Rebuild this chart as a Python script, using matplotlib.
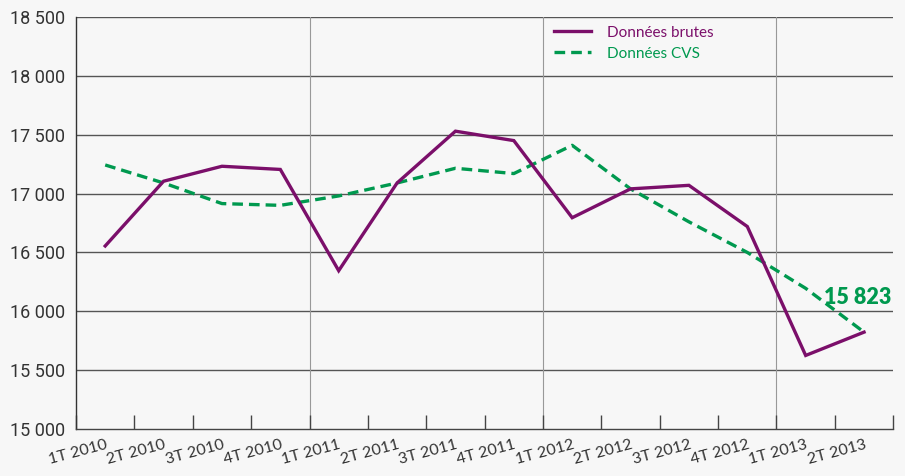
import matplotlib
matplotlib.use("Agg")
import matplotlib.pyplot as plt
import numpy as np

categories = ["1T 2010", "2T 2010", "3T 2010", "4T 2010",
              "1T 2011", "2T 2011", "3T 2011", "4T 2011",
              "1T 2012", "2T 2012", "3T 2012", "4T 2012",
              "1T 2013", "2T 2013"]
brutes = [16555, 17105, 17232, 17205, 16345, 17090, 17530, 17450,
          16795, 17040, 17070, 16720, 15625, 15823]
cvs = [17243, 17090, 16915, 16900, 16980, 17090, 17215, 17170,
       17410, 17040, 16760, 16500, 16195, 15823]
yticks = [15000, 15500, 16000, 16500, 17000, 17500, 18000, 18500]
ytick_labels = ["15 000", "15 500", "16 000", "16 500", "17 000", "17 500", "18 000", "18 500"]
label_last = "15 823"

purple = "#7b0f6a"
green = "#00994f"
bg = "#f7f7f7"

fig = plt.figure(figsize=(9.05, 4.76), dpi=100)
fig.patch.set_facecolor(bg)
ax = fig.add_axes([0.084, 0.0987, 0.903, 0.8656])
ax.set_facecolor(bg)

x = np.arange(len(categories))
ax.plot(x, brutes, color=purple, lw=2.4, solid_joinstyle="miter", label="Données brutes", zorder=4)
ax.plot(x, cvs, color=green, lw=2.4, ls=(0, (3.2, 1.8)), label="Données CVS", zorder=3)

ax.set_xlim(-0.5, len(categories) - 0.5)
ax.set_ylim(15000, 18500)

# horizontal grid
for yv in yticks[1:]:
    ax.axhline(yv, color="#555555", lw=1.0, zorder=1)
# vertical year separators
for xv in [3.5, 7.5, 11.5]:
    ax.axvline(xv, color="#999999", lw=0.8, zorder=1)

ax.set_yticks(yticks)
ax.set_yticklabels(ytick_labels, fontsize=13, family="Roboto", color="#333333")
ax.tick_params(axis="y", length=0, pad=8)

ax.set_xticks(np.arange(-0.5, len(categories), 1.0))
ax.set_xticklabels([])
ax.tick_params(axis="x", which="major", direction="in", length=10, width=1.0, color="#444444")
ax.set_xticks(x, minor=True)
ax.set_xticklabels(categories, minor=True, rotation=15, ha="right", va="top",
                   rotation_mode="anchor", fontsize=11.5, family="Lato", color="#333333")
ax.tick_params(axis="x", which="minor", length=0, pad=6)

for s in ["top", "right"]:
    ax.spines[s].set_visible(False)
ax.spines["left"].set_color("#333333")
ax.spines["bottom"].set_color("#444444")
ax.spines["left"].set_linewidth(1.0)
ax.spines["bottom"].set_linewidth(1.0)

leg = ax.legend(loc="upper left", bbox_to_anchor=(0.568, 1.012), frameon=False,
                prop={"family": "Lato", "size": 11}, handlelength=2.4, labelspacing=0.45,
                handletextpad=1.1)
for t, c in zip(leg.get_texts(), [purple, green]):
    t.set_color(c)

ax.annotate(label_last, xy=(x[-1], cvs[-1]), xytext=(x[-1] + 0.47, 16120),
            ha="right", va="center", fontsize=15.5, fontweight="heavy",
            family="Lato", color=green)

fig.savefig("out.png", dpi=100, facecolor=bg)
